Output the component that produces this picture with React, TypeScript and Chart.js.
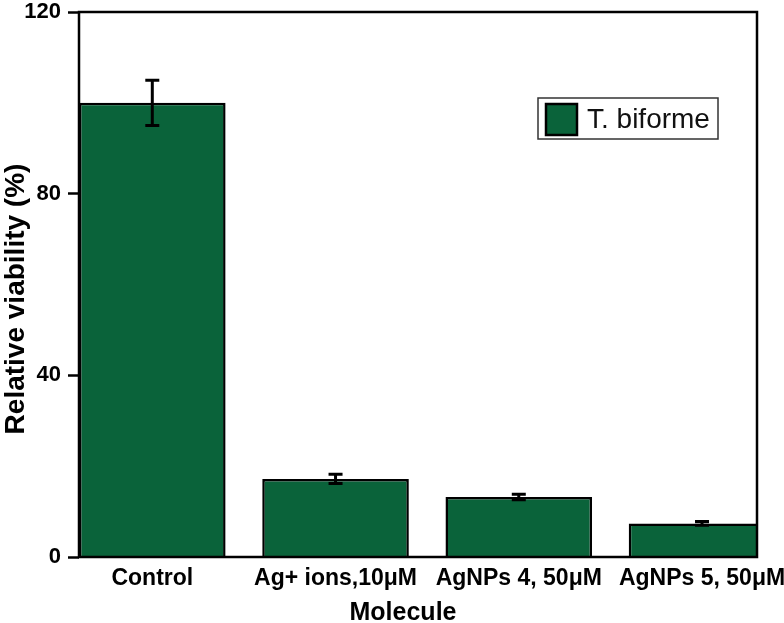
import React, { useEffect, useRef } from "react";
import { Chart, registerables } from "chart.js";

Chart.register(...registerables);

const categories = ["Control", "Ag+ ions,10μM", "AgNPs 4, 50μM", "AgNPs 5, 50μM"];
const viability = [100, 17.2, 13.2, 7.4];
const errors = [5, 1.0, 0.6, 0.4];
const yTicks = [0, 40, 80, 120];
const seriesName = "T. biforme";
const xTitle = "Molecule";
const yTitle = "Relative viability (%)";

const GREEN = "#0a633a";
const FONT = "'Liberation Sans', Arial, Helvetica, sans-serif";

const zeroPad = (s: any) => {
  s.paddingTop = 0;
  s.paddingBottom = 0;
  s.paddingLeft = 0;
  s.paddingRight = 0;
};

const extrasPlugin = {
  id: "extras",
  afterDatasetsDraw(chart: any) {
    const { ctx, chartArea, scales } = chart;
    const xs = scales.x;
    const ys = scales.y;
    ctx.save();
    // error bars
    ctx.strokeStyle = "#000";
    ctx.lineWidth = 3;
    viability.forEach((v, i) => {
      const x = xs.getPixelForValue(i + 1);
      const yt = ys.getPixelForValue(v + errors[i]);
      const yb = ys.getPixelForValue(v - errors[i]);
      ctx.beginPath();
      ctx.moveTo(x, yt);
      ctx.lineTo(x, yb);
      ctx.moveTo(x - 7, yt);
      ctx.lineTo(x + 7, yt);
      ctx.moveTo(x - 7, yb);
      ctx.lineTo(x + 7, yb);
      ctx.stroke();
    });
    // frame
    ctx.lineWidth = 2.5;
    ctx.strokeStyle = "#000";
    ctx.strokeRect(
      chartArea.left,
      chartArea.top,
      chartArea.right - chartArea.left,
      chartArea.bottom - chartArea.top
    );
    // legend
    const lx = chartArea.right - 219;
    const ly = chartArea.top + 86;
    ctx.fillStyle = "#fff";
    ctx.fillRect(lx, ly, 180, 41);
    ctx.lineWidth = 1.5;
    ctx.strokeStyle = "#333";
    ctx.strokeRect(lx, ly, 180, 41);
    ctx.fillStyle = GREEN;
    ctx.fillRect(lx + 8, ly + 6, 31, 31);
    ctx.lineWidth = 2.5;
    ctx.strokeStyle = "#000";
    ctx.strokeRect(lx + 8, ly + 6, 31, 31);
    ctx.fillStyle = "#111";
    ctx.font = `28px ${FONT}`;
    ctx.textAlign = "left";
    ctx.textBaseline = "alphabetic";
    ctx.fillText(seriesName, lx + 49, ly + 30);
    // axis titles
    ctx.fillStyle = "#000";
    ctx.font = `bold 25px ${FONT}`;
    ctx.textAlign = "center";
    ctx.fillText(xTitle, 403, 620);
    ctx.save();
    ctx.translate(24, 299);
    ctx.rotate(-Math.PI / 2);
    ctx.font = `bold 28px ${FONT}`;
    ctx.fillText(yTitle, 0, 0);
    ctx.restore();
    ctx.restore();
  },
};

export default function App() {
  const ref = useRef<HTMLCanvasElement | null>(null);
  useEffect(() => {
    if (!ref.current) return;
    const chart = new Chart(ref.current, {
      type: "bar",
      data: {
        datasets: [
          {
            label: seriesName,
            data: viability.map((v, i) => ({ x: i + 1, y: v })),
            backgroundColor: GREEN,
            borderColor: "#000",
            borderWidth: 2.5,
            barPercentage: 0.8,
            categoryPercentage: 1,
            clip: 0,
          } as any,
        ],
      },
      options: {
        animation: false,
        responsive: false,
        layout: { padding: { top: 12, right: 27, left: 0, bottom: 0 } },
        plugins: { legend: { display: false }, tooltip: { enabled: false } },
        scales: {
          x: {
            type: "linear",
            min: 0.6,
            max: 4.3,
            offset: false,
            grid: { display: false, offset: false },
            border: { display: false },
            afterBuildTicks: (s: any) => {
              s.ticks = categories.map((_, i) => ({ value: i + 1 }));
            },
            afterFit: (s: any) => {
              s.height = 66;
              zeroPad(s);
            },
            ticks: {
              autoSkip: false,
              maxRotation: 0,
              padding: 0,
              color: "#000",
              font: { family: FONT, size: 23, weight: "bold" },
              callback: (v: any) => categories[Math.round(v) - 1] ?? "",
            },
          },
          y: {
            min: 0,
            max: 120,
            afterBuildTicks: (s: any) => {
              s.ticks = yTicks.map((v) => ({ value: v }));
            },
            afterFit: (s: any) => {
              s.width = 79;
              zeroPad(s);
            },
            grid: {
              display: true,
              drawOnChartArea: false,
              drawTicks: true,
              tickLength: 11,
              tickWidth: 2.5,
              tickColor: "#000",
            },
            border: { display: false },
            ticks: {
              padding: 7,
              color: "#000",
              font: { family: FONT, size: 22, weight: "bold" },
            },
          },
        },
      } as any,
      plugins: [extrasPlugin],
    });
    return () => chart.destroy();
  }, []);
  return (
    <div style={{ position: "fixed", left: 0, top: 0, width: 784, height: 623, background: "#fff" }}>
      <canvas ref={ref} width={784} height={623} style={{ display: "block" }} />
    </div>
  );
}
